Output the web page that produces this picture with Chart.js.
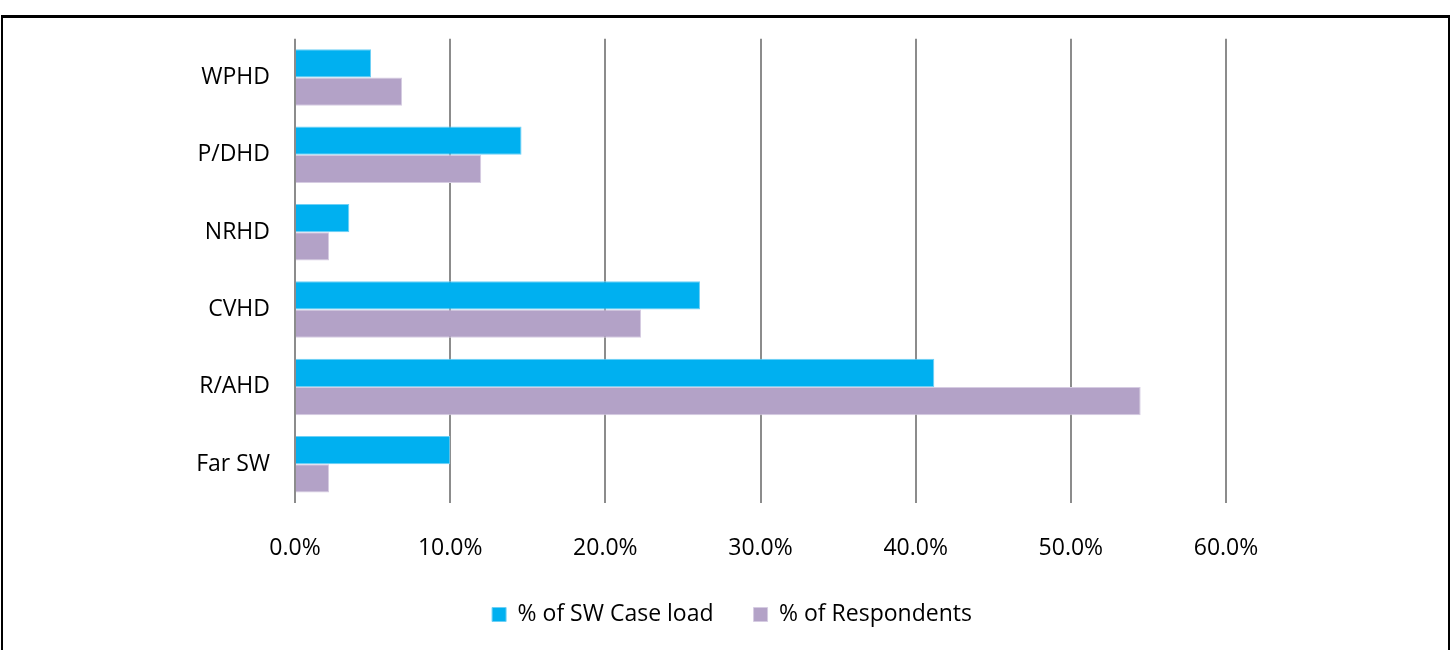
<!DOCTYPE html>
<html>
<head>
<meta charset="utf-8">
<script src="https://cdn.jsdelivr.net/npm/chart.js@4/dist/chart.umd.min.js"></script>
<style>
  html, body { margin:0; padding:0; background:#fff; }
  .frame { position:absolute; left:1px; top:15px; width:1449px; height:640px;
           border-top:3px solid #000; border-left:2px solid #000; border-right:2px solid #000; box-sizing:border-box; }
  .wrap { position:absolute; left:0; top:0; width:1453px; height:650px; }
</style>
</head>
<body>
<div class="frame"></div>
<div class="wrap"><canvas id="chart"></canvas></div>
<script>
// region labels (top to bottom)
const regions = ['WPHD', 'P/DHD', 'NRHD', 'CVHD', 'R/AHD', 'Far SW'];
// % of SW Case load
const caseLoad = [4.9, 14.6, 3.5, 26.1, 41.2, 10.0];
// % of Respondents
const respondents = [6.9, 12.0, 2.2, 22.3, 54.5, 2.2];
const xTicks = [0, 10, 20, 30, 40, 50, 60];

const font = "'Open Sans', sans-serif";

// legend sits centred on the whole frame, not on the plot
const shiftLegend = {
  id: 'shiftLegend',
  afterLayout(chart) {
    const lg = chart.legend;
    if (lg) { lg.left += 119; lg.right += 119; }
  }
};

new Chart(document.getElementById('chart'), {
  type: 'bar',
  data: {
    labels: regions,
    datasets: [
      { label: '% of SW Case load', data: caseLoad, backgroundColor: '#00B0F0', borderColor: '#6fd0f5', borderWidth: 1 },
      { label: '% of Respondents', data: respondents, backgroundColor: '#B3A2C7', borderColor: '#d6cce2', borderWidth: 1 }
    ]
  },
  options: {
    indexAxis: 'y',
    responsive: true, maintainAspectRatio: false, animation: false,
    datasets: { bar: { categoryPercentage: 0.73, barPercentage: 1.0 } },
    layout: { padding: { left: 0, right: 227, top: 37, bottom: 14 } },
    plugins: {
      tooltip: { enabled: false },
      legend: {
        position: 'bottom',
        labels: { color: '#000', font: { family: font, size: 23 }, boxWidth: 14, boxHeight: 14, padding: 40 }
      }
    },
    scales: {
      x: {
        min: 0, max: 60,
        afterBuildTicks: s => { s.ticks = xTicks.map(v => ({ value: v })); },
        afterFit: s => { s.height = 60; },
        ticks: { color: '#000', font: { family: font, size: 23 }, padding: 32, callback: v => v.toFixed(1) + '%' },
        grid: { color: '#8c8c8c', lineWidth: 2, drawTicks: false },
        border: { display: false }
      },
      y: {
        afterFit: s => { s.width = 295; },
        ticks: { color: '#000', font: { family: font, size: 23 }, padding: 25 },
        grid: { display: false, drawTicks: false },
        border: { display: false }
      }
    }
  },
  plugins: [shiftLegend]
});
</script>
</body>
</html>
